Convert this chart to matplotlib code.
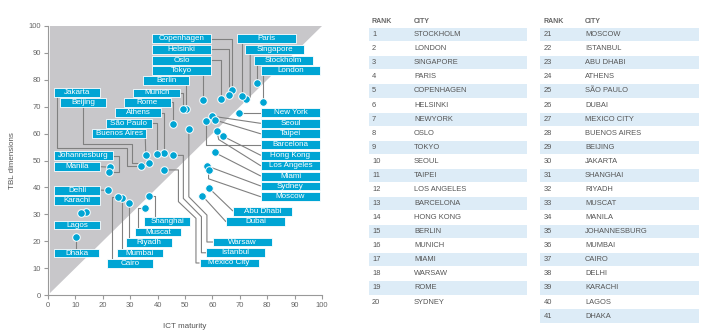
import numpy as np
import matplotlib.pyplot as plt
from matplotlib.patches import Rectangle, Polygon

plt.rcParams['font.family'] = ['Liberation Sans', 'DejaVu Sans']

CYAN = '#00a5d4'
FILL = '#c8c7ca'
LINE = '#808080'
TXT = '#555555'

# scatter data: ICT maturity vs TBL dimensions
cities = ['Stockholm', 'London', 'Singapore', 'Paris', 'Copenhagen', 'Helsinki',
          'New York', 'Oslo', 'Tokyo', 'Seoul', 'Taipei', 'Los Angeles', 'Barcelona',
          'Hong Kong', 'Berlin', 'Munich', 'Miami', 'Warsaw', 'Rome', 'Sydney',
          'Moscow', 'Istanbul', 'Abu Dhabi', 'Athens', 'São Paulo', 'Dubai',
          'Mexico City', 'Buenos Aires', 'Beijing', 'Jakarta', 'Shanghai', 'Riyadh',
          'Muscat', 'Manila', 'Johannesburg', 'Mumbai', 'Cairo', 'Dehli', 'Karachi',
          'Lagos', 'Dhaka']
ict = [76.1, 78.4, 72.1, 70.9, 67.3, 66.2, 69.7, 63.2, 56.6, 59.8, 60.8, 61.6, 57.7,
       63.7, 50.5, 49.1, 60.8, 51.4, 45.8, 58.0, 58.6, 45.7, 58.8, 42.5, 39.7, 56.3,
       42.2, 35.7, 36.8, 33.9, 36.8, 29.6, 35.4, 22.7, 22.2, 26.9, 25.7, 21.8, 13.9,
       11.9, 10.3]
tbl = [78.7, 71.9, 72.9, 73.9, 76.2, 74.3, 67.7, 72.7, 72.6, 66.5, 65.1, 61.0, 64.8,
       59.1, 69.0, 69.3, 53.0, 61.6, 63.7, 48.0, 46.5, 51.9, 39.7, 52.8, 52.3, 36.9,
       46.5, 51.9, 49.2, 48.1, 36.9, 34.1, 32.5, 47.5, 45.7, 36.1, 36.5, 38.9, 31.0,
       30.4, 21.7]

# ranking table
ranks = list(range(1, 42))
rank_cities = ['STOCKHOLM', 'LONDON', 'SINGAPORE', 'PARIS', 'COPENHAGEN', 'HELSINKI',
               'NEWYORK', 'OSLO', 'TOKYO', 'SEOUL', 'TAIPEI', 'LOS ANGELES', 'BARCELONA',
               'HONG KONG', 'BERLIN', 'MUNICH', 'MIAMI', 'WARSAW', 'ROME', 'SYDNEY',
               'MOSCOW', 'ISTANBUL', 'ABU DHABI', 'ATHENS', 'SÃO PAULO', 'DUBAI',
               'MEXICO CITY', 'BUENOS AIRES', 'BEIJING', 'JAKARTA', 'SHANGHAI', 'RIYADH',
               'MUSCAT', 'MANILA', 'JOHANNESBURG', 'MUMBAI', 'CAIRO', 'DELHI', 'KARACHI',
               'LAGOS', 'DHAKA']

# label layout: left edge, centre y, width, connector waypoints (data units)
W, M = 21.6, 16.8
labels = {
    'Copenhagen': (38.0, 95.2, W, [(59.6, 95.2), (67.3, 95.2)]),
    'Helsinki': (38.0, 91.3, W, [(59.6, 91.3), (66.2, 91.3)]),
    'Oslo': (38.0, 87.2, W, [(59.6, 87.2), (63.2, 87.2)]),
    'Tokyo': (38.0, 83.3, W, [(56.6, 81.7)]),
    'Berlin': (34.6, 79.6, 17.0, [(50.5, 78.0)]),
    'Munich': (31.2, 75.1, 17.0, [(48.2, 75.1), (49.1, 75.1)]),
    'Rome': (27.8, 71.6, 17.0, [(44.8, 71.6), (45.8, 71.6)]),
    'Athens': (24.5, 67.7, M, [(41.3, 67.7), (42.5, 67.7)]),
    'São Paulo': (21.1, 63.8, M, [(37.9, 63.8), (39.7, 63.8)]),
    'Buenos Aires': (16.2, 60.1, 19.5, [(35.5, 58.5)]),
    'Jakarta': (2.2, 75.4, M, [(3.2, 73.8), (3.2, 54.8), (28.9, 54.8), (28.9, 48.1)]),
    'Beijing': (4.5, 71.6, M, [(12.9, 70.0), (12.9, 56.3), (30.6, 56.3), (30.6, 49.2)]),
    'Johannesburg': (2.2, 51.8, W, [(23.8, 51.8), (25.9, 51.8), (25.9, 45.7)]),
    'Manila': (2.2, 47.7, M, [(19.0, 47.7)]),
    'Dehli': (2.2, 39.0, M, [(19.0, 39.0)]),
    'Karachi': (2.2, 35.1, M, []),
    'Lagos': (2.2, 26.0, M, []),
    'Dhaka': (2.2, 15.6, 16.4, [(10.3, 17.2)]),
    'Cairo': (21.7, 11.8, 16.6, [(23.4, 13.4), (23.4, 36.5)]),
    'Mumbai': (25.1, 15.6, M, [(26.9, 17.2)]),
    'Riyadh': (28.5, 19.6, M, [(29.6, 21.2)]),
    'Muscat': (31.8, 23.4, M, [(32.9, 25.0), (32.9, 32.5)]),
    'Shanghai': (35.2, 27.4, M, [(39.1, 29.0), (39.1, 36.9)]),
    'Paris': (68.9, 95.2, W, [(70.9, 93.6)]),
    'Singapore': (72.0, 91.3, W, [(73.8, 89.7), (73.8, 73.5)]),
    'Stockholm': (75.0, 87.2, W, [(76.1, 85.6)]),
    'London': (77.7, 83.4, W, [(78.4, 81.8)]),
    'New York': (77.7, 67.7, W, [(77.7, 67.7)]),
    'Seoul': (77.7, 63.8, W, [(77.7, 63.8)]),
    'Taipei': (77.7, 59.9, W, [(77.7, 59.9)]),
    'Barcelona': (77.7, 55.8, W, [(77.7, 55.8), (57.7, 55.8)]),
    'Hong Kong': (77.7, 51.9, W, [(77.7, 51.9)]),
    'Los Angeles': (77.7, 48.0, W, [(77.7, 48.0), (62.3, 57.8)]),
    'Miami': (77.7, 44.2, W, [(77.7, 44.2)]),
    'Sydney': (77.7, 40.5, W, [(77.7, 40.5)]),
    'Moscow': (77.7, 36.5, W, [(77.7, 36.5), (58.6, 43.2)]),
    'Abu Dhabi': (67.5, 31.2, W, [(67.5, 31.2)]),
    'Dubai': (65.0, 27.2, W, [(65.0, 27.2)]),
    'Warsaw': (60.2, 19.7, W, [(60.2, 19.7), (58.0, 19.7), (58.0, 29.7), (51.4, 36.5)]),
    'Istanbul': (57.7, 15.7, W, [(57.7, 15.7), (56.0, 15.7), (56.0, 29.1), (49.4, 35.9), (49.4, 51.9)]),
    'Mexico City': (55.3, 11.9, W, [(55.3, 11.9), (54.0, 11.9), (54.0, 28.5), (47.6, 34.7), (47.6, 46.5)]),
}

fig = plt.figure(figsize=(7.08, 3.35), dpi=100)
ax = fig.add_axes([48 / 708, 40 / 335, 274 / 708, 269 / 335])

ax.add_patch(Polygon([(0.7, 0.7), (100, 100), (0.7, 100)], closed=True,
                     facecolor=FILL, edgecolor='none', zorder=0))

pts = dict(zip(cities, zip(ict, tbl)))
for name, (left, yc, w, via) in labels.items():
    px, py = pts[name]
    if via:
        xs = [p[0] for p in via] + [px]
        ys = [p[1] for p in via] + [py]
        ax.plot(xs, ys, color=LINE, lw=0.8, zorder=1, solid_capstyle='butt')

ax.scatter(ict, tbl, s=30, color=CYAN, edgecolor='white', linewidth=0.7, zorder=3)

h = 3.3
for name, (left, yc, w, via) in labels.items():
    ax.add_patch(Rectangle((left, yc - h / 2), w, h, facecolor=CYAN,
                           edgecolor='white', lw=0.6, zorder=4))
    ax.text(left + w / 2, yc, name, color='white', fontsize=5.8,
            ha='center', va='center', zorder=5)

ax.set_xlim(0, 100)
ax.set_ylim(0, 100)
ax.set_xticks(range(0, 101, 10))
ax.set_yticks(range(0, 101, 10))
for s in ['top', 'right']:
    ax.spines[s].set_visible(False)
for s in ['left', 'bottom']:
    ax.spines[s].set_color('#999999')
    ax.spines[s].set_linewidth(0.8)
ax.tick_params(colors='#999999', labelcolor='#666666', labelsize=5.5,
               length=3, width=0.8, pad=2)
ax.set_xlabel('ICT maturity', fontsize=5.8, color='#555555', labelpad=10)
ax.set_ylabel('TBL dimensions', fontsize=5.8, color='#555555', labelpad=9)

# ranking table drawn in pixel coordinates
tab = fig.add_axes([0, 0, 1, 1])
tab.set_xlim(0, 708)
tab.set_ylim(335, 0)
tab.axis('off')

STRIPE = '#ddecf7'
cols = [(372, 414, 369, 526.7), (544, 585, 540, 699)]
for (xr, xc, x0, x1), (start, stop) in zip(cols, [(0, 20), (20, 41)]):
    tab.text(xr, 21.3, 'RANK', fontsize=5, fontweight='bold', color='#666666', va='center')
    tab.text(xc, 21.3, 'CITY', fontsize=5, fontweight='bold', color='#666666', va='center')
    for i, (r, c) in enumerate(zip(ranks[start:stop], rank_cities[start:stop])):
        y = 34.7 + i * 14.07
        if i % 2 == 0:
            tab.add_patch(Rectangle((x0, y - 6.6), x1 - x0, 13.2,
                                    facecolor=STRIPE, edgecolor='none'))
        tab.text(xr, y, str(r), fontsize=5.4, color=TXT, va='center')
        tab.text(xc, y, c, fontsize=5.4, color=TXT, va='center')

fig.savefig('out.png', dpi=100)
